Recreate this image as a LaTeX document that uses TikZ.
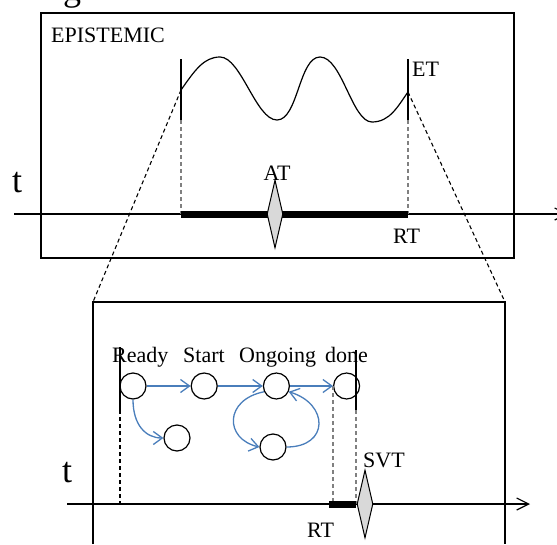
\documentclass[tikz,border=0pt]{standalone}
\usepackage{fontspec}
\setmainfont{Liberation Serif}
\usepackage{tikz}
\usetikzlibrary{calc, positioning, arrows.meta, shapes.geometric}
\usepackage{tkz-euclide}
\definecolor{stateblue}{RGB}{74,126,187}
\definecolor{markgray}{RGB}{217,217,217}
\tikzset{
  state/.style={circle, draw, line width=1.2pt, minimum size=26pt, inner sep=0pt},
  flow/.style={stateblue, line width=1.3pt, -{Straight Barb[length=9pt,width=13pt]}},
  guide/.style={dash pattern=on 4pt off 3pt, line width=1.1pt, line cap=butt},
  tickmark/.style={line width=2.5pt, line cap=butt},
  spanbar/.style={line width=7pt, line cap=butt},
  event/.style={diamond, draw, fill=markgray, line width=1pt, minimum width=16pt, minimum height=68pt, inner sep=0pt},
  lbl/.style={inner sep=0pt, font=\fontsize{22}{26}\selectfont},
  big/.style={inner sep=0pt, font=\fontsize{36}{40}\selectfont},
}

\begin{document}
\begin{tikzpicture}[x=1pt, y=-1pt]
                \useasboundingbox (0,0) rectangle (557,544);
                \clip (0,0) rectangle (557,544);
                \tkzDefPoints{41/13/E1, 514/258/E2, 14/214/T1, 568/214/T2,
                  181/59/A1, 181/120/A2, 181/214/A3, 408/59/B1, 408/120/B2, 408/214/B3,
                  181/90/W1, 408/92/W2, 93/302/S1, 505/302/S2, 93/544/S3, 505/544/S4,
                  67/504/U1, 530/504/U2, 120/347/C1, 120/410/C2, 120/504/C3,
                  356/350/D1, 356/410/D2, 356/504/D3, 329/504/D4}
                % epistemic frame
                \draw[line width=1.2pt] (E1) rectangle (E2);
                \draw[line width=1.2pt, -{Straight Barb[length=12pt,width=12pt]}] (T1) -- (T2);
                \tkzDrawSegments[tickmark](A1,A2 B1,B2)
                \tkzDrawSegments[guide, gray](A2,A3 B2,B3)
                \tkzDrawSegments[spanbar](A3,B3)
                \draw[line width=1.2pt] (W1) .. controls (195,70) and (204,57) .. (220,57)
                  .. controls (241,57) and (256,120) .. (277,120)
                  .. controls (298,120) and (299,57) .. (320,57)
                  .. controls (342,57) and (352,122) .. (372,122)
                  .. controls (390,122) and (398,106) .. (W2);
                \node[event] (dAT) at (275,214) {};
                \node[lbl, anchor=base] (lAT) at (277,180) {AT};
                \node[lbl, anchor=base west] (lEpi) at (51,42) {EPISTEMIC};
                \node[lbl, anchor=base west] (lET) at (412,76) {ET};
                \node[lbl, anchor=base west] (lRT) at (393,243) {RT};
                \node[big, anchor=base west] (lt) at (12,192) {t};
                \node[big, anchor=base] (lg) at (72,0) {g};
                % zoom
                \tkzDrawSegments[guide](W1,S1 W2,S2)
                % state frame
                \draw[line width=1.2pt] (S3) -- (S1) -- (S2) -- (S4);
                \draw[line width=1.2pt, -{Straight Barb[length=12pt,width=12pt]}] (U1) -- (U2);
                \node[state] (cReady) at (133,386) {};
                \node[state, right=44pt of cReady] (cStart) {};
                \node[state, right=45pt of cStart] (cOngoing) {};
                \node[state, right=43pt of cOngoing] (cDone) {};
                \node[state] (cIdle) at (177,438) {};
                \node[state] (cRetry) at (273,447) {};
                \tkzDrawSegments[tickmark](C1,C2 D1,D2)
                \tkzDrawSegments[guide](C2,C3)
                \tkzDrawSegments[guide, gray](D2,D3)
                \draw[guide, gray] (cDone.west) -- (cDone.west |- U1);
                \tkzDrawSegments[spanbar](D4,D3)
                \node[event] (dSVT) at (365,504) {};
                \node[lbl, anchor=base west] (lReady) at (112,362) {Ready};
                \node[lbl, anchor=base west] (lStart) at (183,362) {Start};
                \node[lbl, anchor=base west] (lOngoing) at (239,362) {Ongoing};
                \node[lbl, anchor=base west] (lDone) at (325,362) {done};
                \node[lbl, anchor=base west] (lSVT) at (363,467) {SVT};
                \node[lbl, anchor=base west] (lRT2) at (307,537) {RT};
                \node[big, anchor=base west] (lt2) at (62,482) {t};
                \draw[flow] (cReady) -- (cStart);
                \draw[flow] (cStart) -- (cOngoing);
                \draw[flow] (cOngoing) -- (cDone);
                \draw[flow] (cReady.south) .. controls +(0,25) and +(-18,0) .. (cIdle.west);
                \draw[flow] (cOngoing.205) .. controls +(-40,8) and +(-35,-8) .. (cRetry.west);
                \draw[flow] (cRetry.east) .. controls +(43,0) and +(40,12) .. (cOngoing.335);
            \end{tikzpicture}
\end{document}
